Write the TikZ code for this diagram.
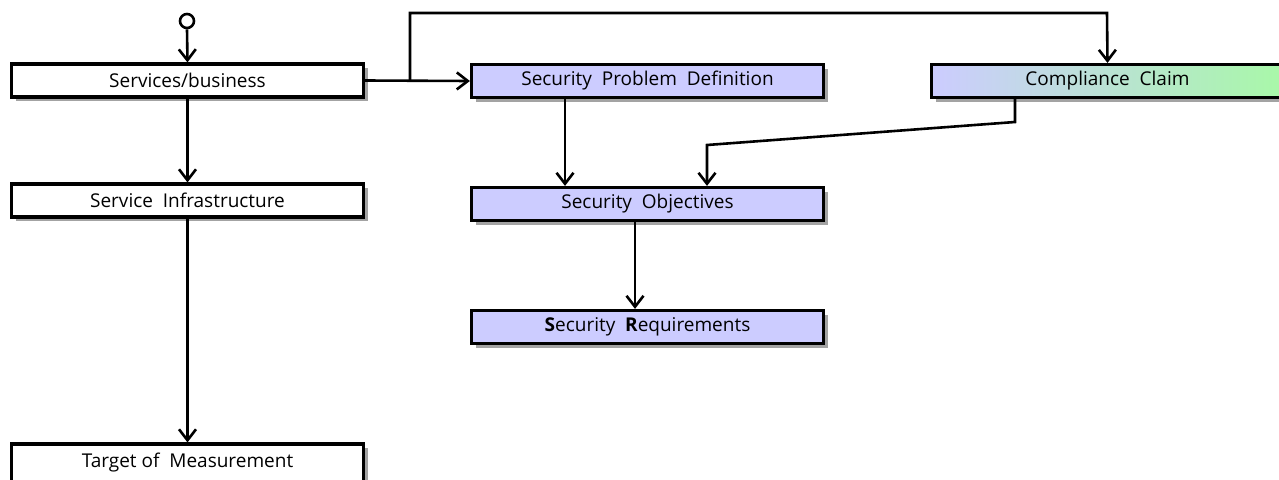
\documentclass[tikz,border=0pt]{standalone}
\usepackage{fontspec}
\setmainfont{Open Sans}
\usetikzlibrary{arrows.meta,shadows}
\begin{document}
\begin{tikzpicture}[x=1pt,y=-1pt,
  box/.style={draw=black,line width=3.2pt,minimum width=352pt,minimum height=33pt,inner sep=0pt,
    font=\fontsize{19}{20}\selectfont,
    drop shadow={shadow xshift=4pt,shadow yshift=-4pt,fill=black!45,opacity=0.8}},
  wbox/.style={box,fill=white},
  pbox/.style={box,fill=lav},
  conn/.style={line width=2.6pt,-{Straight Barb[length=11pt,width=17pt,line width=2.6pt]}},
  plain/.style={line width=2.6pt}]
\definecolor{lav}{RGB}{204,204,255}
\definecolor{lgreen}{RGB}{168,248,168}
\useasboundingbox (0,0) rectangle (1279,479);
\node[wbox] (sb) at (187.5,80.5) {Services/business};
\node[wbox] (si) at (187.5,200.5) {Service\ \ Infrastructure};
\node[wbox,minimum height=38pt] (tm) at (187.5,463) {Target of\ \ Measurement};
\node[pbox] (spd) at (647.5,81) {Security\ \ Problem\ \ Definition};
\node[pbox] (so) at (647.5,204) {Security\ \ Objectives};
\node[pbox] (sr) at (647.5,327) {\textbf{S}ecurity\ \ \textbf{R}equirements};
\node[box,left color=lav,right color=lgreen] (cc) at (1107.5,81) {Compliance\ \ Claim};
\node[draw,circle,line width=2.6pt,minimum size=14pt,inner sep=0pt] (st) at (187,21) {};
\coordinate (br) at (410,80.5);
\coordinate (bt) at (410,13);
\coordinate (ct) at (1107,13);
\coordinate (c1) at (1015,122);
\coordinate (c2) at (707,145);
\draw[conn] (st.south) -- (sb.north);
\draw[conn] (sb.south) -- (si.north);
\draw[conn] (si.south) -- (tm.north);
\draw[conn] (sb.east) -- (spd.west);
\draw[conn] (br) -- (bt) -- (ct) -- (cc.north);
\draw[conn] (spd.south -| 565,0) -- (so.north -| 565,0);
\draw[conn] (cc.south -| c1) -- (c1) -- (c2) -- (so.north -| c2);
\draw[conn] (so.south -| 635,0) -- (sr.north -| 635,0);
\end{tikzpicture}
\end{document}
